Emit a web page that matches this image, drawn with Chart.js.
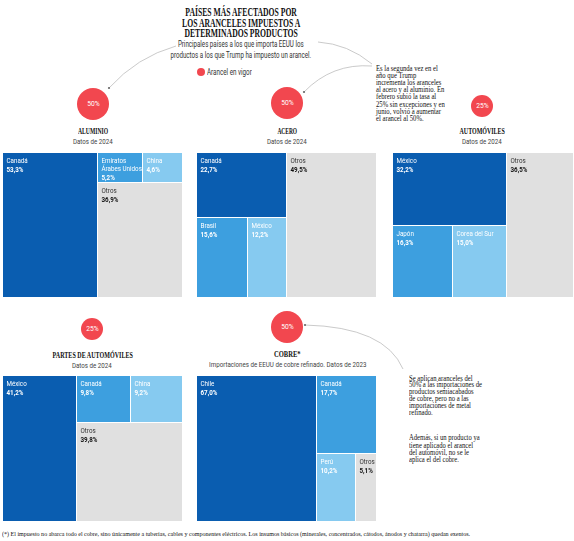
<!DOCTYPE html>
<html>
<head>
<meta charset="utf-8">
<script src="https://cdn.jsdelivr.net/npm/chart.js@4/dist/chart.umd.min.js"></script>
<style>
html, body { margin: 0; padding: 0; background: #fff; }
#page { position: relative; width: 574px; height: 541px; overflow: hidden; }
.t { position: absolute; white-space: nowrap; }
.dot { position: absolute; border-radius: 50%; background: #f2474f; }
canvas { position: absolute; }
svg { position: absolute; left: 0; top: 0; pointer-events: none; }
</style>
</head>
<body>
<div id="page"></div>
<script>
// values (share of US imports, %)
var aluminioLabels = ['Canadá', 'Emiratos\nÁrabes Unidos', 'China', 'Otros'],
    aluminioValues = [53.3, 5.2, 4.6, 36.9],
    aceroLabels = ['Canadá', 'Brasil', 'México', 'Otros'],
    aceroValues = [22.7, 15.6, 12.2, 49.5],
    autosLabels = ['México', 'Japón', 'Corea del Sur', 'Otros'],
    autosValues = [32.2, 16.3, 15.0, 36.5],
    partesLabels = ['México', 'Canadá', 'China', 'Otros'],
    partesValues = [41.2, 9.8, 9.2, 39.8],
    cobreLabels = ['Chile', 'Canadá', 'Perú', 'Otros'],
    cobreValues = [67.0, 17.7, 10.2, 5.1],
    tariffs = [50, 50, 25, 25, 50];

var page = document.getElementById('page'),
    palette = ['#0a5db0', '#3d9fdf', '#86caf0', '#e0e0e0'],
    serif = '"Liberation Serif", serif',
    sans = 'Roboto, sans-serif';

var panels = [
    { title: 'ALUMINIO', sub: 'Datos de 2024', labels: aluminioLabels, values: aluminioValues,
      tree: ['h', 0, ['v', ['h', 1, 2], 3]], box: [3, 153, 179, 144], cx: 93, cy: 104, ty: 131, tw: 30, sw: 40 },
    { title: 'ACERO', sub: 'Datos de 2024', labels: aceroLabels, values: aceroValues,
      tree: ['h', ['v', 0, ['h', 1, 2]], 3], box: [197, 153, 179, 144], cx: 287, cy: 103, ty: 131, tw: 20, sw: 40 },
    { title: 'AUTOMÓVILES', sub: 'Datos de 2024', labels: autosLabels, values: autosValues,
      tree: ['h', ['v', 0, ['h', 1, 2]], 3], box: [393, 153, 180, 144], cx: 482, cy: 106, ty: 131, tw: 45, sw: 40 },
    { title: 'PARTES DE AUTOMÓVILES', sub: 'Datos de 2024', labels: partesLabels, values: partesValues,
      tree: ['h', 0, ['v', ['h', 1, 2], 3]], box: [3, 376, 179, 145], cx: 92, cy: 329, ty: 355, tw: 80, sw: 40 },
    { title: 'COBRE*', sub: 'Importaciones de EEUU de cobre refinado. Datos de 2023', labels: cobreLabels, values: cobreValues,
      tree: ['h', 0, ['v', 1, ['h', 2, 3]]], box: [197, 376, 179, 145], cx: 287, cy: 327, ty: 354, tw: 27, sw: 157 }
];

function addText(lines, o) {
    var d = document.createElement('div');
    d.className = 't';
    d.style.font = o.font;
    d.style.lineHeight = o.lh + 'px';
    d.style.color = o.color || '#222';
    d.style.textAlign = o.align || 'left';
    lines.forEach(function(l, i) {
        if (i) d.appendChild(document.createElement('br'));
        d.appendChild(document.createTextNode(l));
    });
    d.style.top = (o.y - o.lh / 2) + 'px';
    page.appendChild(d);
    var w = d.offsetWidth,
        s = o.w ? o.w / w : 1;
    if (o.align === 'center') {
        d.style.left = (o.x - w / 2) + 'px';
        d.style.transformOrigin = '50% 0';
    } else {
        d.style.left = o.x + 'px';
        d.style.transformOrigin = '0 0';
    }
    d.style.transform = 'scaleX(' + s + ')';
    return d;
}

function nodeSum(node, values) {
    if (typeof node === 'number') return values[node];
    return node.slice(1).reduce(function(s, n) { return s + nodeSum(n, values); }, 0);
}

function layoutNode(node, values, x0, y0, x1, y1, out) {
    if (typeof node === 'number') {
        out[node] = { x0: x0, y0: y0, x1: x1, y1: y1 };
        return;
    }
    var total = nodeSum(node, values),
        pos = node[0] === 'h' ? x0 : y0;
    node.slice(1).forEach(function(k) {
        var frac = nodeSum(k, values) / total;
        if (node[0] === 'h') {
            var w = (x1 - x0) * frac;
            layoutNode(k, values, pos, y0, pos + w, y1, out);
            pos += w;
        } else {
            var h = (y1 - y0) * frac;
            layoutNode(k, values, x0, pos, x1, pos + h, out);
            pos += h;
        }
    });
}

function fmt(v) {
    return v.toFixed(1).replace('.', ',') + '%';
}

function squeezedText(ctx, str, x, y, sx) {
    ctx.save();
    ctx.translate(x, y);
    ctx.scale(sx, 1);
    ctx.fillText(str, 0, 0);
    ctx.restore();
}

var treemapPlugin = {
    id: 'treemap',
    afterDatasetsDraw: function(chart, args, opts) {
        var ctx = chart.ctx,
            xs = chart.scales.x,
            ys = chart.scales.y,
            cells = [];

        layoutNode(opts.tree, opts.values, 0, 0, 100, 100, cells);

        cells.forEach(function(c, i) {
            var l = Math.round(xs.getPixelForValue(c.x0)),
                r = Math.round(xs.getPixelForValue(c.x1)),
                t = Math.round(ys.getPixelForValue(c.y0)),
                b = Math.round(ys.getPixelForValue(c.y1)),
                isOther = i === 3,
                lines = opts.labels[i].split('\n'),
                ty = t + 7.5;

            if (c.x1 < 99.9) r -= 1;
            if (c.y1 < 99.9) b -= 1;
            ctx.fillStyle = palette[i];
            ctx.fillRect(l, t, r - l, b - t);

            ctx.textBaseline = 'middle';
            ctx.textAlign = 'left';
            ctx.fillStyle = isOther ? '#333' : '#fff';
            ctx.font = '8px ' + sans;
            lines.forEach(function(line, j) {
                squeezedText(ctx, line, l + 3.5, ty + j * 8, 0.78);
            });
            ctx.fillStyle = isOther ? '#111' : '#fff';
            ctx.font = 'bold 8px ' + sans;
            squeezedText(ctx, fmt(opts.values[i]), l + 3.5, ty + lines.length * 8 + 1, 0.78);
        });
    }
};

// connector curves
var svgNS = 'http://www.w3.org/2000/svg',
    svg = document.createElementNS(svgNS, 'svg');
svg.setAttribute('width', 574);
svg.setAttribute('height', 541);
[
    ['M176,46 Q137,57 109,88', [109, 88]],
    ['M318,42 Q348,44 372,64', null],
    ['M372,66 Q332,63 304,92', [304, 92]],
    ['M403,369 Q385,327 305,325', [305, 325]]
].forEach(function(c) {
    var p = document.createElementNS(svgNS, 'path');
    p.setAttribute('d', c[0]);
    p.setAttribute('fill', 'none');
    p.setAttribute('stroke', '#bdbdbd');
    p.setAttribute('stroke-width', '0.8');
    svg.appendChild(p);
    if (c[1]) {
        var e = document.createElementNS(svgNS, 'circle');
        e.setAttribute('cx', c[1][0]);
        e.setAttribute('cy', c[1][1]);
        e.setAttribute('r', 1.1);
        e.setAttribute('fill', '#666');
        svg.appendChild(e);
    }
});

// header texts
addText(['PAÍSES MÁS AFECTADOS POR', 'LOS ARANCELES IMPUESTOS A', 'DETERMINADOS PRODUCTOS'],
    { x: 241, y: 12.3, lh: 10.5, font: 'bold 13px ' + serif, w: 118, align: 'center', color: '#111' });
addText(['Principales países a los que importa EEUU los', 'productos a los que Trump ha impuesto un arancel.'],
    { x: 241, y: 44.3, lh: 10.7, font: '8.5px ' + sans, w: 141, align: 'center', color: '#333' });

var legendDot = document.createElement('div');
legendDot.className = 'dot';
legendDot.style.cssText = 'left:197px;top:68px;width:8px;height:8px;';
page.appendChild(legendDot);
addText(['Arancel en vigor'], { x: 207, y: 72, lh: 10, font: '8.5px ' + sans, w: 45, color: '#333' });

addText(['Es la segunda vez en el', 'año que Trump', 'incrementa los aranceles', 'al acero y al aluminio. En',
         'febrero subió la tasa al', '25% sin excepciones y en', 'junio, volvió a aumentar', 'el arancel al 50%.'],
    { x: 376, y: 68.3, lh: 7.15, font: '8px ' + serif, w: 69, color: '#111' });
addText(['Se aplican aranceles del', '50% a las importaciones de', 'productos semiacabados', 'de cobre, pero no a las',
         'importaciones de metal', 'refinado.'],
    { x: 409, y: 379, lh: 6.95, font: '8px ' + serif, w: 73, color: '#111' });
addText(['Además, si un producto ya', 'tiene aplicado el arancel', 'del automóvil, no se le', 'aplica el del cobre.'],
    { x: 409, y: 438, lh: 7.1, font: '8px ' + serif, w: 71, color: '#111' });
addText(['(*) El impuesto no abarca todo el cobre, sino únicamente a tuberías, cables y componentes eléctricos. Los insumos básicos (minerales, concentrados, cátodos, ánodos y chatarra) quedan exentos.'],
    { x: 2, y: 533.5, lh: 8, font: '7px ' + serif, w: 468, color: '#111' });

panels.forEach(function(p, i) {
    var r = 16 * Math.sqrt(tariffs[i] / 50),
        dot = document.createElement('div');
    dot.className = 'dot';
    dot.style.cssText = 'left:' + (p.cx - r) + 'px;top:' + (p.cy - r) + 'px;width:' + (2 * r) + 'px;height:' + (2 * r) + 'px;';
    page.appendChild(dot);
    addText([tariffs[i] + '%'], { x: p.cx, y: p.cy, lh: 10, font: '7px ' + sans, align: 'center', color: '#fff', w: 12.5 });

    addText([p.title], { x: p.cx, y: p.ty, lh: 10, font: 'bold 9px ' + serif, w: p.tw, align: 'center', color: '#111' });
    addText([p.sub], { x: p.cx, y: p.ty + 11, lh: 10, font: '8px ' + sans, w: p.sw, align: 'center', color: '#444' });

    var canvas = document.createElement('canvas');
    canvas.width = p.box[2];
    canvas.height = p.box[3];
    canvas.style.left = p.box[0] + 'px';
    canvas.style.top = p.box[1] + 'px';
    page.appendChild(canvas);

    new Chart(canvas.getContext('2d'), {
        type: 'scatter',
        data: { datasets: [{ data: [] }] },
        options: {
            responsive: false,
            animation: false,
            devicePixelRatio: 1,
            events: [],
            layout: { padding: 0 },
            scales: {
                x: { type: 'linear', min: 0, max: 100, display: false },
                y: { type: 'linear', min: 0, max: 100, reverse: true, display: false }
            },
            plugins: {
                legend: { display: false },
                tooltip: { enabled: false },
                treemap: { labels: p.labels, values: p.values, tree: p.tree }
            }
        },
        plugins: [treemapPlugin]
    });
});

page.appendChild(svg);
</script>
</body>
</html>
